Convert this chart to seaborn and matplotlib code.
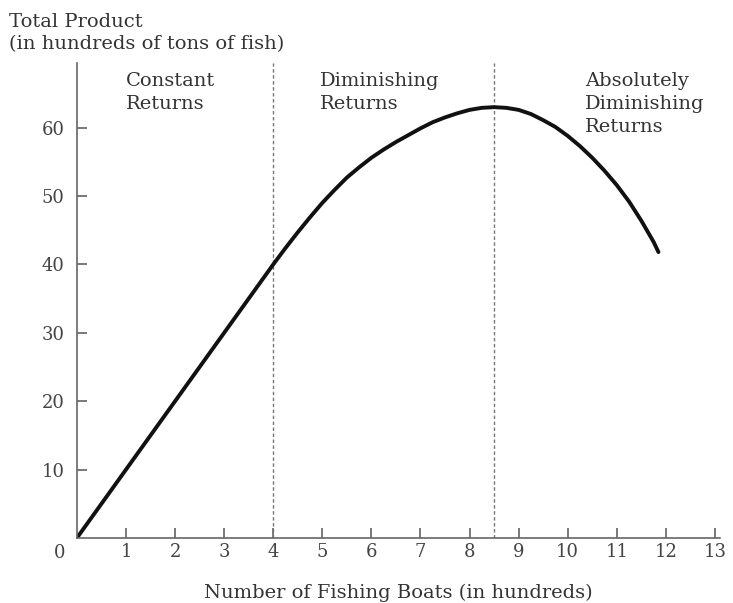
import matplotlib
matplotlib.use("Agg")
import matplotlib.pyplot as plt
import seaborn as sns
import pandas as pd

# Data
boats = [0, 0.5, 1, 1.5, 2, 2.5, 3, 3.5, 4,
         4.25, 4.5, 4.75, 5.0, 5.25, 5.5, 5.75, 6.0, 6.25, 6.5, 6.75, 7.0,
         7.25, 7.5, 7.75, 8.0, 8.25, 8.5, 8.75, 9.0, 9.25, 9.5, 9.75, 10.0,
         10.25, 10.5, 10.75, 11.0, 11.25, 11.5, 11.75, 11.85]
total_product = [0, 5, 10, 15, 20, 25, 30, 35, 40,
                 42.4, 44.7, 46.9, 49.0, 50.9, 52.7, 54.2, 55.6, 56.8, 57.9, 58.9, 59.9,
                 60.8, 61.5, 62.1, 62.6, 62.9, 63.0, 62.9, 62.6, 62.0, 61.1, 60.1, 58.8,
                 57.3, 55.6, 53.7, 51.6, 49.2, 46.4, 43.3, 41.8]
boundaries = [4, 8.5]
x_ticks = list(range(1, 14))
y_ticks = [10, 20, 30, 40, 50, 60]
region_labels = ["Constant\nReturns", "Diminishing\nReturns", "Absolutely\nDiminishing\nReturns"]
region_x = [1.0, 4.95, 10.35]

sns.set_style("white")
plt.rcParams['font.family'] = ['DejaVu Serif', 'Liberation Serif']

df = pd.DataFrame({"boats": boats, "tp": total_product})

fig = plt.figure(figsize=(7.33, 6.03), dpi=100)
ax = fig.add_axes([0.105, 0.108, 0.877, 0.788])

sns.lineplot(data=df, x="boats", y="tp", ax=ax, color="#111111", linewidth=2.8, sort=False)

for b in boundaries:
    ax.axvline(b, color="#777777", linewidth=1.0, linestyle=(0, (2.5, 1.8)), zorder=1)

ax.set_xlim(0, 13.1)
ax.set_ylim(0, 69.5)
ax.set_xticks(x_ticks)
ax.set_xticklabels([str(t) for t in x_ticks])
ax.set_yticks(y_ticks)
ax.set_yticklabels([str(t) for t in y_ticks])
ax.tick_params(axis="both", which="major", bottom=True, left=True, direction="in",
               length=7, width=1.1, colors="#555555",
               labelcolor="#444444", labelsize=13)
ax.tick_params(axis="x", pad=4)
ax.tick_params(axis="y", pad=9)

for s in ["top", "right"]:
    ax.spines[s].set_visible(False)
for s in ["left", "bottom"]:
    ax.spines[s].set_color("#666666")
    ax.spines[s].set_linewidth(1.2)

ax.set_xlabel("Number of Fishing Boats (in hundreds)", fontsize=14, color="#333333", labelpad=16)
ax.set_ylabel("")

ax.text(-0.018, -0.012, "0", transform=ax.transAxes, fontsize=13, color="#444444",
        ha="right", va="top")

fig.text(0.012, 0.979, "Total Product\n(in hundreds of tons of fish)", fontsize=14,
         color="#333333", ha="left", va="top", linespacing=1.35)

for lbl, xpos in zip(region_labels, region_x):
    ax.text(xpos, 68.2, lbl, fontsize=14, color="#333333", ha="left", va="top",
            linespacing=1.38)

fig.savefig("out.png", dpi=100, facecolor="white")
